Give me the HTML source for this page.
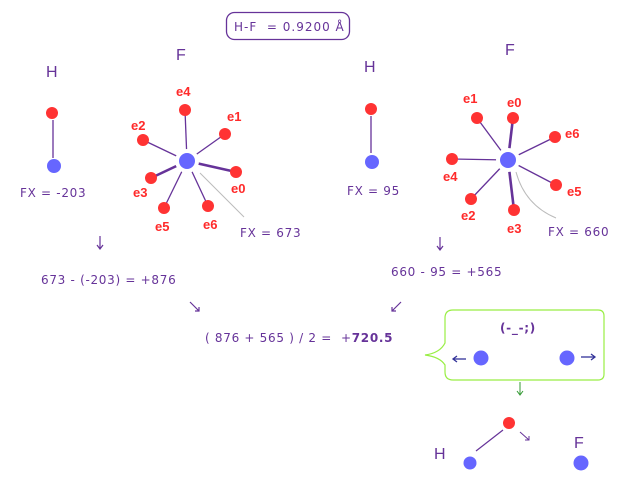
<!DOCTYPE html>
<html><head><meta charset="utf-8"><style>
html,body{margin:0;padding:0;background:#fff;}
svg{display:block}
text{font-family:"DejaVu Sans","Liberation Sans",sans-serif;}
.p{fill:#663399;font-size:12px;letter-spacing:0.7px}
.e{fill:#ff2a2a;font-size:13px;font-weight:bold;font-family:"Liberation Sans",sans-serif}
.big{fill:#663399;font-size:16px;font-family:"Liberation Sans",sans-serif}
.ar{fill:none;stroke:#663399;stroke-width:1.2}
</style></head><body>
<svg width="629" height="493" viewBox="0 0 629 493" xmlns="http://www.w3.org/2000/svg">
<rect x="226.5" y="12.5" width="123" height="27" rx="8" fill="none" stroke="#663399" stroke-width="1.3"/>
<text x="234" y="31" class="p" font-size="12.5" style="letter-spacing:1px">H-F &#160;= 0.9200 Å</text>

<!-- Left H -->
<text x="46" y="77" class="big">H</text>
<line x1="53" y1="120" x2="53" y2="158" stroke="#663399" stroke-width="1.3"/>
<circle cx="52" cy="113" r="6" fill="#ff3333"/>
<circle cx="54" cy="166" r="7" fill="#6666ff"/>
<text x="20" y="197" class="p">FX = -203</text>

<!-- Left F -->
<text x="176" y="60" class="big">F</text>
<g stroke="#663399" stroke-width="1.3">
<line x1="187" y1="161" x2="185" y2="110"/>
<line x1="187" y1="161" x2="225" y2="134"/>
<line x1="187" y1="161" x2="143" y2="140"/>
<line x1="187" y1="161" x2="236" y2="172" stroke-width="2.6"/>
<line x1="187" y1="161" x2="151" y2="178" stroke-width="2.6"/>
<line x1="187" y1="161" x2="164" y2="208"/>
<line x1="187" y1="161" x2="208" y2="206"/>
</g>
<circle cx="187" cy="161" r="12" fill="#fff"/>
<line x1="200" y1="173" x2="244" y2="217" stroke="#bbb" stroke-width="1"/>
<circle cx="187" cy="161" r="8" fill="#6666ff"/>
<g fill="#ff3333">
<circle cx="185" cy="110" r="6"/><circle cx="225" cy="134" r="6"/><circle cx="143" cy="140" r="6"/>
<circle cx="236" cy="172" r="6"/><circle cx="151" cy="178" r="6"/><circle cx="164" cy="208" r="6"/><circle cx="208" cy="206" r="6"/>
</g>
<text x="176" y="96" class="e">e4</text>
<text x="227" y="121" class="e">e1</text>
<text x="131" y="130" class="e">e2</text>
<text x="231" y="193" class="e">e0</text>
<text x="133" y="197" class="e">e3</text>
<text x="155" y="231" class="e">e5</text>
<text x="203" y="229" class="e">e6</text>
<text x="240" y="237" class="p">FX = 673</text>

<!-- Right H -->
<text x="364" y="72" class="big">H</text>
<line x1="371" y1="116" x2="371" y2="153" stroke="#663399" stroke-width="1.3"/>
<circle cx="371" cy="109" r="6" fill="#ff3333"/>
<circle cx="372" cy="162" r="7" fill="#6666ff"/>
<text x="347" y="195" class="p">FX = 95</text>

<!-- Right F -->
<text x="505" y="55" class="big">F</text>
<g stroke="#663399" stroke-width="1.3">
<line x1="508" y1="160" x2="477" y2="118"/>
<line x1="508" y1="160" x2="513" y2="118" stroke-width="2.6"/>
<line x1="508" y1="160" x2="555" y2="137"/>
<line x1="508" y1="160" x2="452" y2="159"/>
<line x1="508" y1="160" x2="556" y2="185"/>
<line x1="508" y1="160" x2="471" y2="199"/>
<line x1="508" y1="160" x2="514" y2="210" stroke-width="2.6"/>
</g>
<circle cx="508" cy="160" r="12" fill="#fff"/>
<path d="M516,172 Q525,205 556,218" fill="none" stroke="#bbb" stroke-width="1"/>
<circle cx="508" cy="160" r="8" fill="#6666ff"/>
<g fill="#ff3333">
<circle cx="477" cy="118" r="6"/><circle cx="513" cy="118" r="6"/><circle cx="555" cy="137" r="6"/>
<circle cx="452" cy="159" r="6"/><circle cx="556" cy="185" r="6"/><circle cx="471" cy="199" r="6"/><circle cx="514" cy="210" r="6"/>
</g>
<text x="463" y="103" class="e">e1</text>
<text x="507" y="107" class="e">e0</text>
<text x="565" y="138" class="e">e6</text>
<text x="443" y="181" class="e">e4</text>
<text x="567" y="196" class="e">e5</text>
<text x="461" y="220" class="e">e2</text>
<text x="507" y="233" class="e">e3</text>
<text x="548" y="236" class="p">FX = 660</text>

<!-- arrows -->
<path class="ar" d="M100,236 V249 M97,245 L100,249 L103,245"/>
<path class="ar" d="M440,237 V250 M437,246 L440,250 L443,246"/>
<path class="ar" d="M190,302 L199,311 M195,311 H199 V307"/>
<path class="ar" d="M401,302 L392,311 M392,307 V311 H396"/>

<text x="41" y="284" class="p">673 - (-203) = +876</text>
<text x="391" y="276" class="p">660 - 95 = +565</text>
<text x="205" y="342" class="p">( 876 + 565 ) / 2 = &#160;+<tspan font-weight="bold">720.5</tspan></text>

<!-- callout -->
<path d="M453,310 H598 Q604,310 604,316 V374 Q604,380 598,380 H453 Q445,380 445,372 V365 Q440,357 425,355 Q440,353 445,343 V318 Q445,310 453,310 Z" fill="#fff" stroke="#99ee44" stroke-width="1.2"/>
<text x="500" y="332" class="p" font-size="13" font-weight="bold">(-_-;)</text>
<circle cx="481" cy="358" r="7.5" fill="#6666ff"/>
<circle cx="567" cy="358" r="7.5" fill="#6666ff"/>
<line x1="453" y1="359" x2="466" y2="359" stroke="#333399" stroke-width="1.3"/>
<path d="M457,356 L453,359 L457,362" fill="none" stroke="#333399" stroke-width="1.3"/>
<line x1="581" y1="357" x2="595" y2="357" stroke="#333399" stroke-width="1.3"/>
<path d="M591,354 L595,357 L591,360" fill="none" stroke="#333399" stroke-width="1.3"/>
<line x1="520" y1="382" x2="520" y2="394" stroke="#339933" stroke-width="1"/>
<path d="M517,391 L520,395 L523,391" fill="none" stroke="#339933" stroke-width="1"/>

<!-- bottom -->
<line x1="476" y1="451" x2="503" y2="430" stroke="#663399" stroke-width="1.2"/>
<circle cx="509" cy="423" r="6" fill="#ff3333"/>
<circle cx="470" cy="463" r="6.5" fill="#6666ff"/>
<circle cx="581" cy="463" r="7.5" fill="#6666ff"/>
<text x="434" y="459" class="big">H</text>
<text x="574" y="448" class="big">F</text>
<line x1="520" y1="432" x2="529" y2="440" stroke="#663399" stroke-width="1"/>
<path d="M525,440 L529,440 L529,436" fill="none" stroke="#663399" stroke-width="1"/>
</svg>
</body></html>
